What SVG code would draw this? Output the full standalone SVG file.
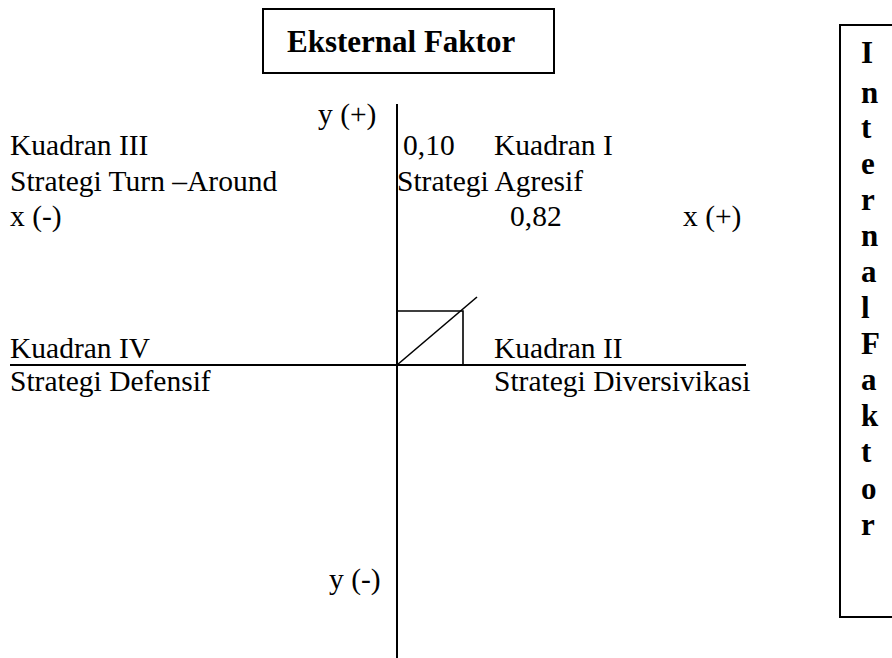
<svg xmlns="http://www.w3.org/2000/svg" width="892" height="658" viewBox="0 0 892 658">
  <style>
    .lbl { font-family: "Liberation Serif", "Times New Roman", serif; font-size: 29.5px; fill: #000; }
    .bold { font-family: "Liberation Serif", "Times New Roman", serif; font-weight: bold; font-size: 31px; fill: #000; }
    .frame { fill: none; stroke: #000; stroke-width: 2; }
    .axis { stroke: #000; stroke-width: 2; fill: none; }
    .thin { stroke: #000; stroke-width: 1.6; fill: none; }
  </style>
  <rect width="892" height="658" fill="#fff"/>

  <!-- header box -->
  <g id="eksternal">
    <rect class="frame" x="263" y="9" width="291" height="64"/>
    <text class="bold" x="287" y="52">Eksternal Faktor</text>
  </g>

  <!-- side box with vertical lettering -->
  <g id="internal">
    <path class="frame" d="M893,25 H840 V617 H893"/>
    <text class="bold" x="861">
      <tspan x="861" y="63">I</tspan>
      <tspan x="861" y="103">n</tspan>
      <tspan x="861" y="138">t</tspan>
      <tspan x="861" y="174">e</tspan>
      <tspan x="861" y="210">r</tspan>
      <tspan x="861" y="246">n</tspan>
      <tspan x="861" y="282">a</tspan>
      <tspan x="861" y="318">l</tspan>
      <tspan x="861" y="354">F</tspan>
      <tspan x="861" y="390">a</tspan>
      <tspan x="861" y="426">k</tspan>
      <tspan x="861" y="462">t</tspan>
      <tspan x="861" y="499">o</tspan>
      <tspan x="861" y="535">r</tspan>
    </text>
  </g>

  <!-- axes and the plotted point -->
  <g id="connectors">
    <line class="axis" x1="397" y1="104" x2="397" y2="658"/>
    <line class="axis" x1="10" y1="365" x2="746" y2="365"/>
    <polyline class="thin" points="397,311 463,311 463,365"/>
    <line class="thin" x1="397" y1="365" x2="477" y2="297"/>
  </g>

  <g id="axis-labels">
    <text class="lbl" x="318" y="124">y (+)</text>
    <text class="lbl" x="329" y="589">y (-)</text>
    <text class="lbl" x="10" y="226">x (-)</text>
    <text class="lbl" x="683" y="226">x (+)</text>
    <text class="lbl" x="403" y="155">0,10</text>
    <text class="lbl" x="510" y="226">0,82</text>
  </g>

  <g id="kuadran-3">
    <text class="lbl" x="10" y="155">Kuadran III</text>
    <text class="lbl" x="10" y="191">Strategi Turn –Around</text>
  </g>
  <g id="kuadran-1">
    <text class="lbl" x="494" y="155">Kuadran I</text>
    <text class="lbl" x="397" y="191">Strategi Agresif</text>
  </g>
  <g id="kuadran-4">
    <text class="lbl" x="10" y="358">Kuadran IV</text>
    <text class="lbl" x="10" y="391">Strategi Defensif</text>
  </g>
  <g id="kuadran-2">
    <text class="lbl" x="494" y="358">Kuadran II</text>
    <text class="lbl" x="494" y="391">Strategi Diversivikasi</text>
  </g>
</svg>
